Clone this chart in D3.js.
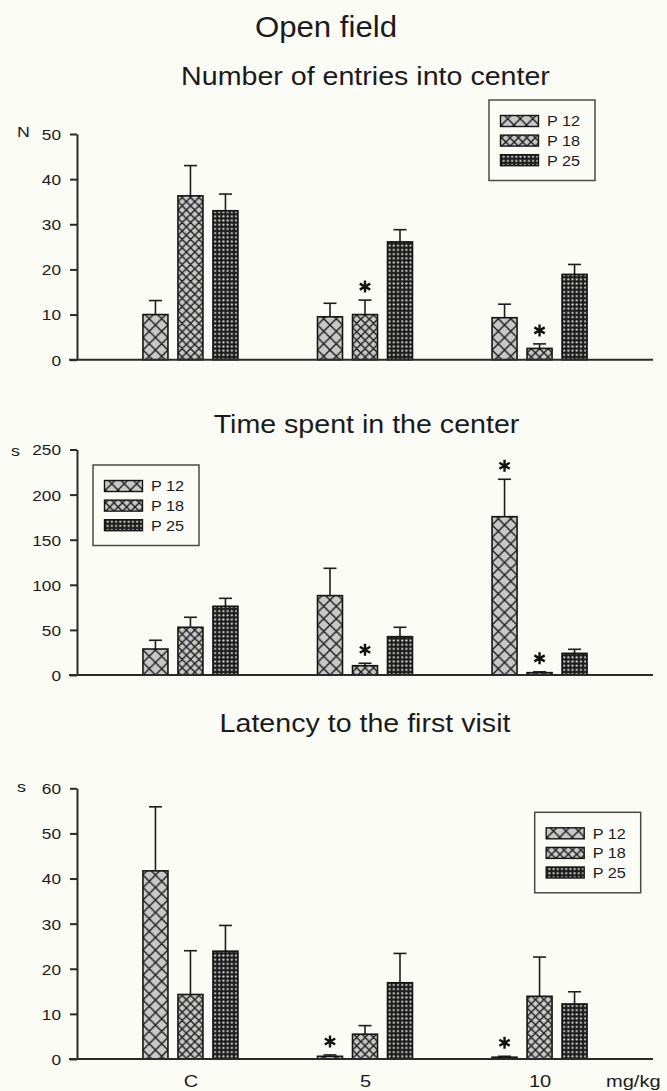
<!DOCTYPE html>
<html>
<head>
<meta charset="utf-8">
<script src="https://cdn.jsdelivr.net/npm/d3@7"></script>
<style>
  html, body { margin: 0; padding: 0; background: #fcfcf7; }
  svg { display: block; }
  text { font-family: "Liberation Sans", Arial, sans-serif; fill: #1b1b1b; }
</style>
</head>
<body>
<svg id="chart" width="667" height="1091"></svg>
<script>
// Dose groups (x categories) and age series
const groups = ["C", "5", "10"];
const seriesNames = ["P 12", "P 18", "P 25"];
const xUnit = "mg/kg";

// Number of entries into center (mean, SEM)
const entriesP12 = [10.0, 9.5, 9.3];
const entriesP18 = [36.3, 10.0, 2.5];
const entriesP25 = [33.0, 26.1, 18.9];
const entriesSemP12 = [3.1, 3.0, 3.0];
const entriesSemP18 = [6.7, 3.2, 1.0];
const entriesSemP25 = [3.7, 2.7, 2.2];
const entriesStars = [["5", "P 18"], ["10", "P 18"]];
const entriesTicks = [0, 10, 20, 30, 40, 50];

// Time spent in the center, s (mean, SEM)
const timeP12 = [28.8, 88.0, 175.5];
const timeP18 = [52.9, 10.3, 2.6];
const timeP25 = [76.2, 42.5, 24.0];
const timeSemP12 = [9.7, 30.3, 41.5];
const timeSemP18 = [11.1, 2.7, 0.9];
const timeSemP25 = [8.8, 10.4, 4.5];
const timeStars = [["5", "P 18"], ["10", "P 12"], ["10", "P 18"]];
const timeTicks = [0, 50, 100, 150, 200, 250];

// Latency to the first visit, s (mean, SEM)
const latencyP12 = [41.7, 0.6, 0.4];
const latencyP18 = [14.3, 5.5, 13.9];
const latencyP25 = [23.9, 16.9, 12.2];
const latencySemP12 = [14.2, 0.3, 0.2];
const latencySemP18 = [9.7, 1.9, 8.7];
const latencySemP25 = [5.7, 6.5, 2.7];
const latencyStars = [["5", "P 12"], ["10", "P 12"]];
const latencyTicks = [0, 10, 20, 30, 40, 50, 60];

const svg = d3.select("#chart");

function scaledText(sel, x, y, str, size, sx, anchor) {
  return sel.append("text")
    .attr("transform", `translate(${x},${y}) scale(${sx},1)`)
    .attr("text-anchor", anchor)
    .style("font-size", size + "px")
    .text(str);
}

// ---- fill patterns ----
const defs = svg.append("defs");
function crossHatch(id, p, bg) {
  const pat = defs.append("pattern").attr("id", id)
    .attr("patternUnits", "userSpaceOnUse")
    .attr("width", p).attr("height", p);
  pat.append("rect").attr("width", p).attr("height", p).attr("fill", bg);
  pat.append("path")
    .attr("d", `M0,0L${p},${p}M0,${p}L${p},0M${-p/2},${p/2}L${p/2},${-p/2}M${p/2},${3*p/2}L${3*p/2},${p/2}M${-p/2},${p/2}L${p/2},${3*p/2}M${p/2},${-p/2}L${3*p/2},${p/2}`)
    .attr("stroke", "#1c1c1c").attr("stroke-width", 1.4).attr("fill", "none");
}
crossHatch("patP12", 12.5, "#c8c8c8");
crossHatch("patP18", 8.4, "#c8c8c8");
(function dots() {
  const p = 4.2;
  const pat = defs.append("pattern").attr("id", "patP25")
    .attr("patternUnits", "userSpaceOnUse")
    .attr("width", p).attr("height", p);
  pat.append("rect").attr("width", p).attr("height", p).attr("fill", "#1e1e1e");
  pat.append("circle").attr("cx", p / 2).attr("cy", p / 2).attr("r", 1.1).attr("fill", "#d4d4d4");
})();
const fillFor = d3.scaleOrdinal().domain(seriesNames).range(["url(#patP12)", "url(#patP18)", "url(#patP25)"]);

// ---- shared x scales ----
const x = d3.scalePoint().domain(groups).range([77, 653]).padding(0.65);
const xInner = d3.scaleBand().domain(seriesNames).range([-47.5, 47.5]).paddingInner(10 / 35);

// asterisk path (six spokes)
function asterisk(r) {
  const t = r / 2, u = t * Math.sqrt(3);
  return `M0,${-r}L0,${r}M${-u},${-t}L${u},${t}M${-u},${t}L${u},${-t}`;
}

function drawPanel(cfg) {
  const g = svg.append("g");
  const y = d3.scaleLinear().domain([0, d3.max(cfg.ticks)]).range(cfg.yRange);

  // title
  scaledText(g, cfg.titleX, cfg.titleY, cfg.title, 26, 1.1, "middle");

  // bars
  const rows = [];
  groups.forEach((grp, i) => {
    seriesNames.forEach((s, j) => {
      rows.push({ grp, s, mean: cfg.means[j][i], sem: cfg.sems[j][i] });
    });
  });

  const bars = g.selectAll("g.bar").data(rows).join("g").attr("class", "bar")
    .attr("transform", d => `translate(${x(d.grp) + xInner(d.s)},0)`);
  const bw = xInner.bandwidth();

  // error bars (upper only)
  bars.append("line")
    .attr("x1", bw / 2).attr("x2", bw / 2)
    .attr("y1", d => y(d.mean)).attr("y2", d => y(d.mean + d.sem))
    .attr("stroke", "#1c1c1c").attr("stroke-width", 1.6);
  bars.append("line")
    .attr("x1", bw / 2 - 6.5).attr("x2", bw / 2 + 6.5)
    .attr("y1", d => y(d.mean + d.sem)).attr("y2", d => y(d.mean + d.sem))
    .attr("stroke", "#1c1c1c").attr("stroke-width", 1.6);

  bars.append("rect")
    .attr("x", 0).attr("width", bw)
    .attr("y", d => y(d.mean))
    .attr("height", d => y(0) - y(d.mean))
    .attr("fill", d => fillFor(d.s))
    .attr("stroke", "#141414").attr("stroke-width", 1.6);

  // significance marks
  const starRows = rows.filter(d => cfg.stars.some(([gg, ss]) => gg === d.grp && ss === d.s));
  g.selectAll("path.star").data(starRows).join("path").attr("class", "star")
    .attr("transform", d => `translate(${x(d.grp) + xInner(d.s) + bw / 2},${y(d.mean + d.sem) - 13.5})`)
    .attr("d", asterisk(6))
    .attr("stroke", "#111").attr("stroke-width", 2.4).attr("fill", "none");

  // y axis
  const ax = g.append("g").attr("transform", `translate(${x.range()[0]},0)`)
    .call(d3.axisLeft(y).tickValues(cfg.ticks).tickSize(7).tickSizeOuter(0).tickFormat(d3.format("d")));
  ax.select(".domain").attr("stroke", "#2a2a2a").attr("stroke-width", 2);
  ax.selectAll(".tick line").attr("stroke", "#2a2a2a").attr("stroke-width", 2);
  ax.selectAll(".tick text")
    .attr("x", null).attr("dy", "0.36em")
    .attr("transform", `translate(-16,0) scale(1.15,1)`)
    .style("font-size", "15px").style("font-family", null).attr("fill", null);

  // baseline
  g.append("line")
    .attr("x1", x.range()[0] - 8).attr("x2", x.range()[1])
    .attr("y1", y(0)).attr("y2", y(0))
    .attr("stroke", "#2a2a2a").attr("stroke-width", 2);

  // unit label
  scaledText(g, cfg.unitX, y(d3.max(cfg.ticks)) + cfg.unitDy, cfg.unit, 15.5, 1.15, "start");

  // legend
  const lg = g.append("g").attr("transform", `translate(${cfg.legendX},${cfg.legendY})`);
  lg.append("rect").attr("width", 106).attr("height", 80.5)
    .attr("fill", "none").attr("stroke", "#4a4a4a").attr("stroke-width", 1.5);
  seriesNames.forEach((s, j) => {
    const cy = 21 + j * 19.6;
    lg.append("rect").attr("x", 11.5).attr("y", cy - 5.5).attr("width", 38).attr("height", 11)
      .attr("fill", fillFor(s)).attr("stroke", "#141414").attr("stroke-width", 1.4);
    scaledText(lg, 58, cy + 5.3, s, 14.5, 1.12, "start");
  });

  // category labels along the bottom
  if (cfg.showX) {
    const xa = g.append("g").attr("transform", `translate(0,${y(0)})`)
      .call(d3.axisBottom(x).tickSize(0).tickPadding(0));
    xa.select(".domain").remove();
    xa.selectAll(".tick text")
      .attr("y", null).attr("dy", null)
      .attr("transform", `translate(0,28) scale(1.18,1)`)
      .style("font-size", "17px").style("font-family", null).attr("fill", null);
    scaledText(g, 606, y(0) + 28, xUnit, 17, 1.18, "start");
  }
}

// main heading
scaledText(svg, 326, 37, "Open field", 30, 1.04, "middle");

drawPanel({
  title: "Number of entries into center", titleX: 365.5, titleY: 85,
  means: [entriesP12, entriesP18, entriesP25],
  sems: [entriesSemP12, entriesSemP18, entriesSemP25],
  stars: entriesStars, ticks: entriesTicks, yRange: [359.7, 134],
  unit: "N", unitX: 17, unitDy: 3,
  legendX: 489, legendY: 100, showX: false
});

drawPanel({
  title: "Time spent in the center", titleX: 366.5, titleY: 433,
  means: [timeP12, timeP18, timeP25],
  sems: [timeSemP12, timeSemP18, timeSemP25],
  stars: timeStars, ticks: timeTicks, yRange: [675, 449.5],
  unit: "s", unitX: 11, unitDy: 6,
  legendX: 93, legendY: 465, showX: false
});

drawPanel({
  title: "Latency to the first visit", titleX: 365, titleY: 732,
  means: [latencyP12, latencyP18, latencyP25],
  sems: [latencySemP12, latencySemP18, latencySemP25],
  stars: latencyStars, ticks: latencyTicks, yRange: [1059, 788.3],
  unit: "s", unitX: 17, unitDy: 4,
  legendX: 534.7, legendY: 812.3, showX: true
});
</script>
</body>
</html>
